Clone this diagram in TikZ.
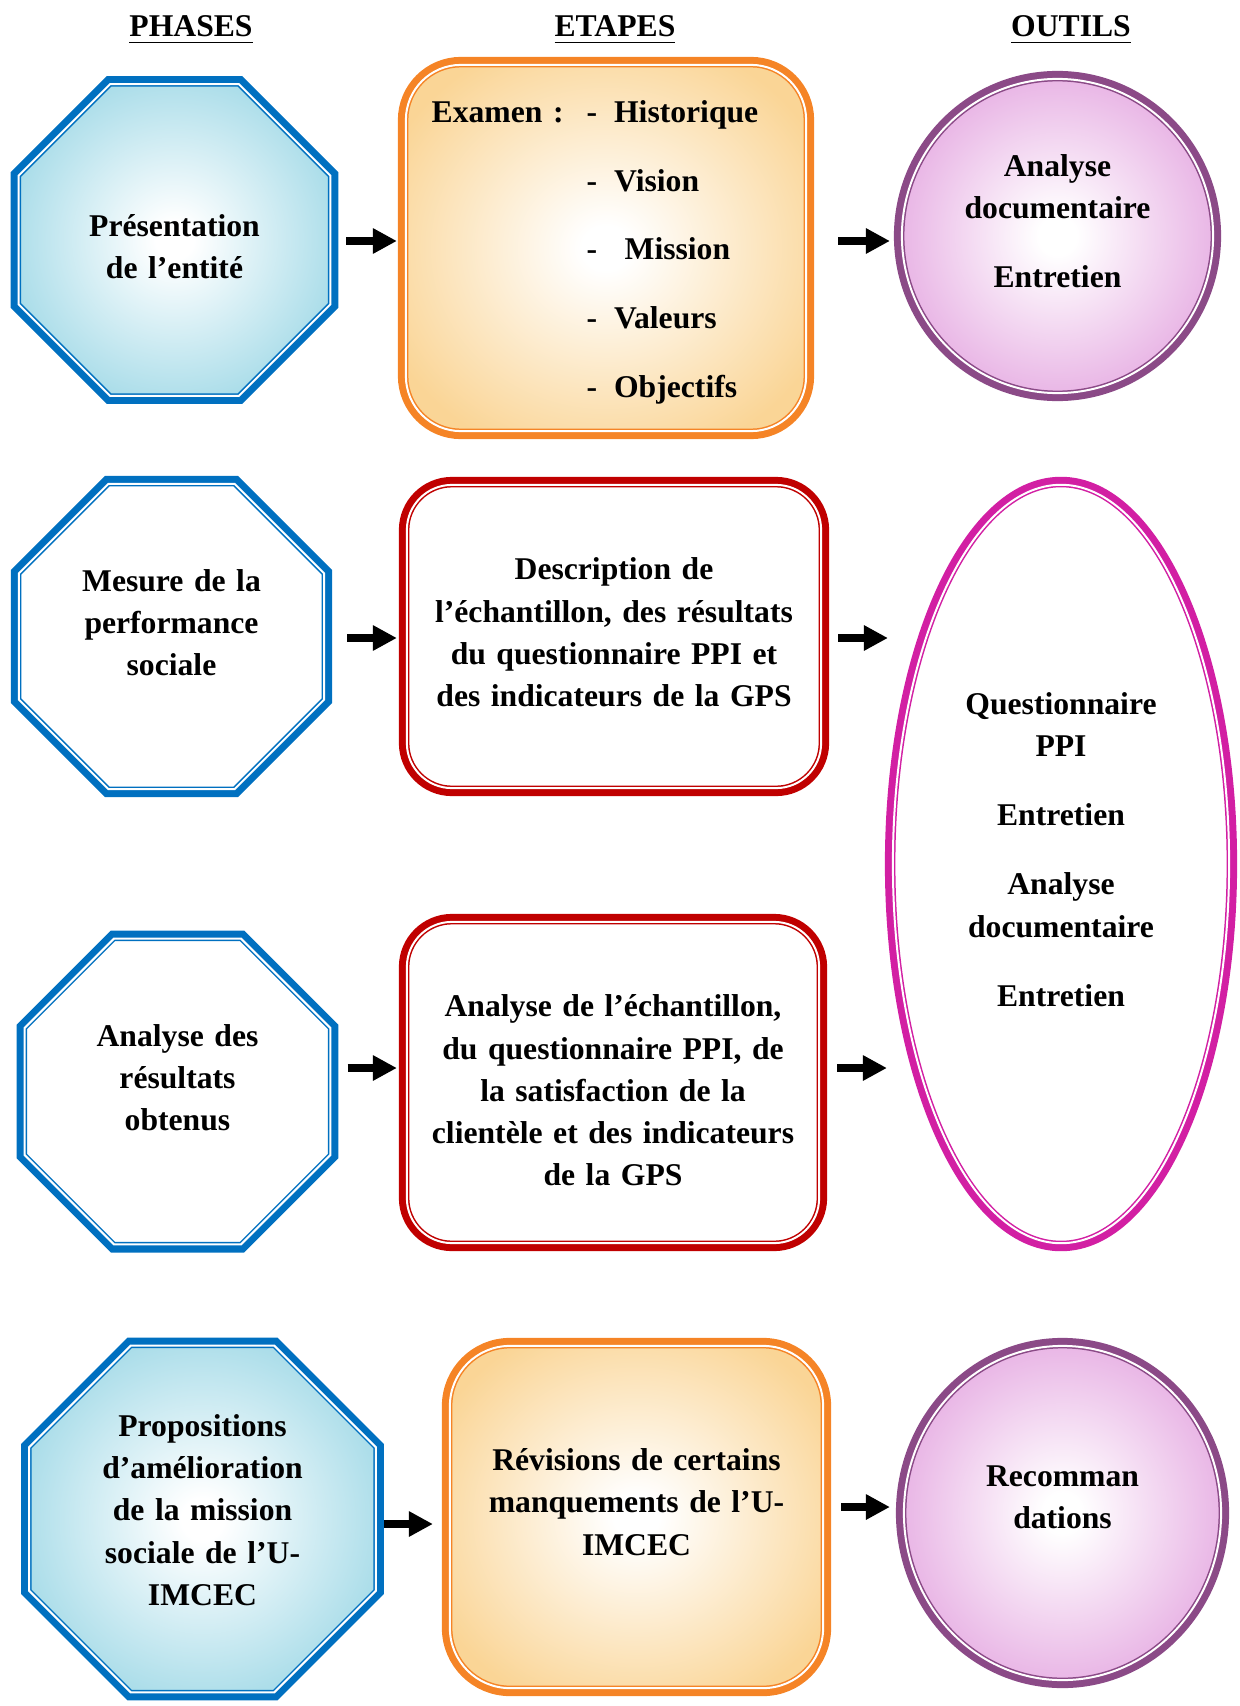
\documentclass[tikz,border=0pt]{standalone}
\usepackage{fontspec}
\setmainfont{Liberation Serif}
\usetikzlibrary{shapes.geometric,arrows.meta}

\definecolor{ocblue}{HTML}{0070C0}
\definecolor{cyanfill}{HTML}{9ED8E6}
\definecolor{orline}{HTML}{F58426}
\definecolor{orfill}{HTML}{FAD596}
\definecolor{redline}{HTML}{C00000}
\definecolor{puline}{HTML}{8B4A87}
\definecolor{pufill}{HTML}{E4A6E0}
\definecolor{mgline}{HTML}{D21FA3}

\pgfdeclareradialshading{glowcyan}{\pgfpointorigin}{color(0bp)=(white);color(3bp)=(white);color(30bp)=(cyanfill);color(50bp)=(cyanfill)}
\pgfdeclareradialshading{gloworange}{\pgfpointorigin}{color(0bp)=(white);color(3bp)=(white);color(30bp)=(orfill);color(50bp)=(orfill)}
\pgfdeclareradialshading{glowpink}{\pgfpointorigin}{color(0bp)=(white);color(3bp)=(white);color(30bp)=(pufill);color(50bp)=(pufill)}

\begin{document}
\begin{tikzpicture}[x=0.01cm, y=-0.01cm, font=\fontsize{9}{12}\selectfont\bfseries]
	\tikzset{dbl/.style={preaction={draw=#1, line width=0.16cm}, draw=#1, double=white, double distance=0.02cm, line width=0.015cm},
		ph/.style={regular polygon, regular polygon sides=8, inner sep=0pt, outer sep=0pt, text width=2.1cm, align=center, dbl=ocblue},
		et/.style={rectangle, inner sep=0pt, outer sep=0pt, text width=3.9cm, align=center},
		ou/.style={ellipse, inner sep=0pt, outer sep=0pt, text width=2cm, align=center},
		hd/.style={anchor=base},
		arr/.style={line width=0.08cm, -{Triangle[length=0.24cm, width=0.24cm]}}};

	\useasboundingbox (0,0) rectangle (1239,1706);

	\node[hd] (h1) at (191,37) {\underline{PHASES}};
	\node[hd] (h2) at (615,37) {\underline{ETAPES}};
	\node[hd] (h3) at (1071,37) {\underline{OUTILS}};

	\node[ph, shading=glowcyan, minimum size=3.37cm] (p1) at (174.5,240) {Présentation\\de l’entité\par\kern-0.13cm};
	\node[ph, fill=white, minimum size=3.30cm] (p2) at (171.5,636.5) {Mesure de la\\performance\\sociale\par\kern0.28cm};
	\node[ph, fill=white, minimum size=3.31cm] (p3) at (177.5,1091.5) {Analyse des\\résultats\\obtenus\par\kern0.28cm};
	\node[ph, shading=glowcyan, minimum size=3.75cm] (p4) at (202.5,1519) {Propositions\\d’amélioration\\de la mission\\sociale de l’U-\\IMCEC\par\kern0.18cm};

	\node[et, dbl=orline, shading=gloworange, rounded corners=0.55cm, minimum width=4cm, minimum height=3.66cm] (e1) at (606,248) {%
		\begin{tabular}{@{}l@{\hspace{0.23cm}}l@{\hspace{0.17cm}}l@{\hspace{0.22cm}}}
		Examen : & - & Historique\\[7.6pt]
		 & - & Vision\\[7.6pt]
		 & - & \ Mission\\[7.6pt]
		 & - & Valeurs\\[7.6pt]
		 & - & Objectifs
		\end{tabular}\par\kern-0.07cm};
	\node[et, dbl=redline, fill=white, rounded corners=0.45cm, minimum width=4.14cm, minimum height=3.03cm] (e2) at (614,636.5) {Description de\\l’échantillon, des résultats\\du questionnaire PPI et\\des indicateurs de la GPS\par\kern0.08cm};
	\node[et, dbl=redline, fill=white, rounded corners=0.45cm, minimum width=4.12cm, minimum height=3.21cm] (e3) at (613,1082.5) {Analyse de l’échantillon,\\du questionnaire PPI, de\\la satisfaction de la\\clientèle et des indicateurs\\de la GPS\par\kern-0.16cm};
	\node[et, dbl=orline, shading=gloworange, rounded corners=0.6cm, text width=3.6cm, minimum width=3.73cm, minimum height=3.42cm] (e4) at (636.5,1517) {Révisions de certains\\manquements de l’U-\\IMCEC\par\kern0.30cm};

	\node[ou, dbl=puline, shading=glowpink, minimum width=3.11cm, minimum height=3.14cm] (o1) at (1057.5,236) {Analyse\\documentaire\\[0.26cm]Entretien\par\kern0.30cm};
	\node[ou, dbl=mgline, fill=white, minimum width=3.36cm, minimum height=7.58cm] (o2) at (1061,864) {Questionnaire\\PPI\\[0.27cm]Entretien\\[0.27cm]Analyse\\documentaire\\[0.27cm]Entretien\par\kern0.29cm};
	\node[ou, dbl=puline, shading=glowpink, minimum width=3.17cm, minimum height=3.34cm] (o3) at (1062.5,1513) {Recomman\\dations\par\kern0.32cm};

	\coordinate (y1) at (0,241);
	\coordinate (y2) at (0,638);
	\coordinate (y3) at (0,1068);
	\coordinate (y4) at (0,1524);
	\coordinate (y5) at (0,1507);

	\draw[arr, shorten <=0.16cm, shorten >=0.09cm] (p1.east |- y1) to (e1.west |- y1);
	\draw[arr, shorten <=0.32cm, shorten >=0.12cm] (e1.east |- y1) to (o1.west |- y1);
	\draw[arr, shorten <=0.23cm, shorten >=0.10cm] (p2.east |- y2) to (e2.west |- y2);
	\draw[arr, shorten <=0.17cm, shorten >=0.05cm] (e2.east |- y2) to (o2.west |- y2);
	\draw[arr, shorten <=0.17cm, shorten >=0.10cm] (p3.east |- y3) to (e3.west |- y3);
	\draw[arr, shorten <=0.18cm, shorten >=0.06cm] (e3.east |- y3) to (o2.west |- y3);
	\draw[arr, shorten <=0.08cm, shorten >=0.17cm] (p4.east |- y4) to (e4.west |- y4);
	\draw[arr, shorten <=0.18cm, shorten >=0.14cm] (e4.east |- y5) to (o3.west |- y5);

\end{tikzpicture}
\end{document}
